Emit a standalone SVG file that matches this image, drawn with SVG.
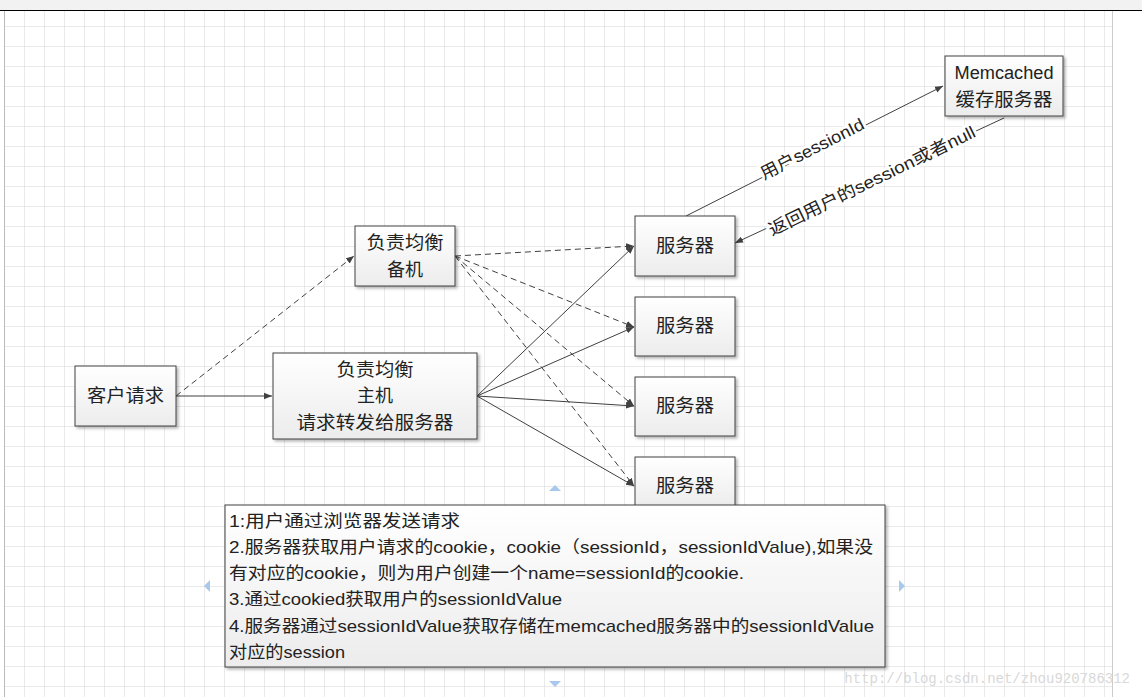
<svg xmlns="http://www.w3.org/2000/svg" width="1142" height="697" viewBox="0 0 1142 697">
<defs>
<pattern id="grid" x="4" y="6" width="20" height="20" patternUnits="userSpaceOnUse"><path d="M0 0H20M0 0V20" stroke="#d6d6d6" stroke-width="1" fill="none"/></pattern>
<linearGradient id="g" x1="0" y1="0" x2="0" y2="1"><stop offset="0" stop-color="#ffffff"/><stop offset="1" stop-color="#ececec"/></linearGradient>
<marker id="a" viewBox="0 0 10 10" refX="10" refY="5" markerWidth="8" markerHeight="8" orient="auto" markerUnits="userSpaceOnUse"><path d="M0 1L10 5L0 9z" fill="#404040"/></marker>
<filter id="s" x="-10%" y="-10%" width="130%" height="130%"><feDropShadow dx="2" dy="2" stdDeviation="1.5" flood-color="#000" flood-opacity="0.3"/></filter>
</defs>
<style>
.n{fill:url(#g);stroke:#404040;stroke-width:1;filter:url(#s)}
.t{font-family:"Liberation Sans","Noto Sans CJK SC",sans-serif;font-size:18px;fill:#222;text-anchor:middle}
.l{font-family:"Liberation Sans","Noto Sans CJK SC",sans-serif;font-size:17px;fill:#222}
.k{stroke:#fff;stroke-width:5px;paint-order:stroke}
.c{stroke:#404040;stroke-width:1;fill:none;marker-end:url(#a)}
.d{stroke-dasharray:6 4}
.h{fill:#a9c9ec}
</style>
<rect width="1142" height="697" fill="#fff"/>
<rect x="0" y="0" width="1142" height="10" fill="#f2f2f2"/>
<line x1="0" y1="10.5" x2="1142" y2="10.5" stroke="#000"/>
<rect x="4" y="11" width="1108" height="686" fill="url(#grid)"/>
<line x1="4.5" y1="11" x2="4.5" y2="697" stroke="#bbb"/>
<line x1="1112.5" y1="11" x2="1112.5" y2="697" stroke="#ccc"/>
<g id="connectors">
<path class="c d" d="M176 396L354 256"/>
<path class="c" d="M176 396L272 396"/>
<path class="c" d="M477 396L634 246"/>
<path class="c" d="M477 396L634 327"/>
<path class="c" d="M477 396L634 406"/>
<path class="c" d="M477 396L634 486"/>
<path class="c d" d="M455 256L634 246"/>
<path class="c d" d="M455 256L634 327"/>
<path class="c d" d="M455 256L634 406"/>
<path class="c d" d="M455 256L634 486"/>
<path class="c" d="M686 216L943 86"/>
<path class="c" d="M1004 118L735 243"/>
<text class="l k" transform="translate(764 180) rotate(-27)" textLength="114" lengthAdjust="spacingAndGlyphs">用户sessionId</text>
<text class="l k" transform="translate(772 236) rotate(-26)" textLength="228" lengthAdjust="spacingAndGlyphs">返回用户的session或者null</text>
</g>
<g id="client"><rect class="n" x="75" y="366" width="101" height="60"/><text class="t" x="125.5" y="402" textLength="77" lengthAdjust="spacingAndGlyphs">客户请求</text></g>
<g id="lb-backup"><rect class="n" x="355" y="226" width="100" height="60"/><text class="t" x="405" y="249" textLength="77" lengthAdjust="spacingAndGlyphs">负责均衡</text><text class="t" x="405" y="276">备机</text></g>
<g id="lb-main"><rect class="n" x="273" y="353" width="204" height="86"/><text class="t" x="375" y="376" textLength="77" lengthAdjust="spacingAndGlyphs">负责均衡</text><text class="t" x="375" y="402">主机</text><text class="t" x="375" y="429" textLength="157" lengthAdjust="spacingAndGlyphs">请求转发给服务器</text></g>
<g id="s1"><rect class="n" x="635" y="216" width="100" height="60"/><text class="t" x="685" y="252" textLength="58" lengthAdjust="spacingAndGlyphs">服务器</text></g>
<g id="s2"><rect class="n" x="635" y="297" width="100" height="59"/><text class="t" x="685" y="332" textLength="58" lengthAdjust="spacingAndGlyphs">服务器</text></g>
<g id="s3"><rect class="n" x="635" y="377" width="100" height="59"/><text class="t" x="685" y="412" textLength="58" lengthAdjust="spacingAndGlyphs">服务器</text></g>
<g id="s4"><rect class="n" x="635" y="457" width="100" height="50"/><text class="t" x="685" y="492" textLength="58" lengthAdjust="spacingAndGlyphs">服务器</text></g>
<g id="memcached"><rect class="n" x="945" y="56" width="118" height="60"/><text class="t" x="1004" y="79" textLength="99" lengthAdjust="spacingAndGlyphs">Memcached</text><text class="t" x="1004" y="106" textLength="97" lengthAdjust="spacingAndGlyphs">缓存服务器</text></g>
<g id="note">
<rect class="n" x="225" y="505" width="660" height="162"/>
<text class="l" x="229" y="527" textLength="231" lengthAdjust="spacingAndGlyphs">1:用户通过浏览器发送请求</text>
<text class="l" x="229" y="553" textLength="644" lengthAdjust="spacingAndGlyphs">2.服务器获取用户请求的cookie，cookie（sessionId，sessionIdValue),如果没</text>
<text class="l" x="229" y="579" textLength="515" lengthAdjust="spacingAndGlyphs">有对应的cookie，则为用户创建一个name=sessionId的cookie.</text>
<text class="l" x="229" y="605" textLength="333" lengthAdjust="spacingAndGlyphs">3.通过cookied获取用户的sessionIdValue</text>
<text class="l" x="229" y="632" textLength="645" lengthAdjust="spacingAndGlyphs">4.服务器通过sessionIdValue获取存储在memcached服务器中的sessionIdValue</text>
<text class="l" x="229" y="658" textLength="116" lengthAdjust="spacingAndGlyphs">对应的session</text>
</g>
<path class="h" d="M549 491L555 485L561 491z"/>
<path class="h" d="M549 681L555 687L561 681z"/>
<path class="h" d="M210 580L204 586L210 592z"/>
<path class="h" d="M899 580L905 586L899 592z"/>
<text x="1130" y="683" font-family="Liberation Mono,monospace" font-size="14" fill="#d8d8d8" text-anchor="end">http://blog.csdn.net/zhou920786312</text>
</svg>
